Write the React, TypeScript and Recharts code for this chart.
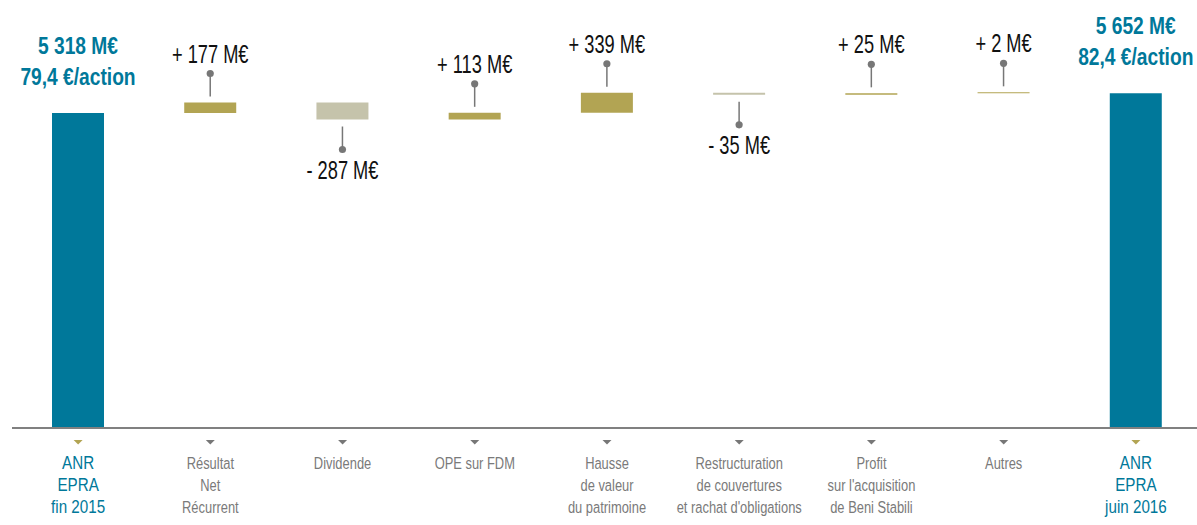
import { Bar, BarChart, Cell, LabelList, XAxis, YAxis } from "recharts";

const categories = [
    ["ANR", "EPRA", "fin 2015"],
    ["Résultat", "Net", "Récurrent"],
    ["Dividende"],
    ["OPE sur FDM"],
    ["Hausse", "de valeur", "du patrimoine"],
    ["Restructuration", "de couvertures", "et rachat d'obligations"],
    ["Profit", "sur l'acquisition", "de Beni Stabili"],
    ["Autres"],
    ["ANR", "EPRA", "juin 2016"],
];
const startValue = 5318;
const endValue = 5652;
const changes = [177, -287, 113, 339, -35, 25, 2];
const perShare = ["79,4", "82,4"];

const TEAL = "#00789a";
const GOLD = "#b2a453";
const BEIGE = "#c5c3ab";
const PIN = "#777777";
const FONT = "'Liberation Sans', Arial, sans-serif";

const fmt = (v: number) => String(v).replace(/\B(?=(\d{3})+(?!\d))/g, " ");

// waterfall rows: transparent base + visible part
const rows = (() => {
    const out = [{ name: categories[0].join(" "), base: 0, value: startValue, kind: "total" }];
    let run = startValue;
    changes.forEach((c, i) => {
        const next = run + c;
        out.push({ name: categories[i + 1].join(" "), base: Math.min(run, next), value: Math.abs(c), kind: c >= 0 ? "up" : "down" });
        run = next;
    });
    out.push({ name: categories[8].join(" "), base: 0, value: endValue, kind: "total" });
    return out;
})();

// condensed look: no narrow font installed, so squeeze horizontally
function CText({ x, y, size, fill, bold, sx, children }: any) {
    return (
        <text transform={`translate(${x} ${y}) scale(${sx} 1)`} x={0} y={0} textAnchor="middle"
            fontFamily={FONT} fontSize={size} fontWeight={bold ? "bold" : "normal"} fill={fill}>{children}</text>
    );
}

function BarLabel(props: any) {
    const { x, y, width, height, index } = props;
    const cx = x + width / 2;
    const row = rows[index];
    if (row.kind === "total") {
        const total = index === 0 ? startValue : endValue;
        const ps = index === 0 ? perShare[0] : perShare[1];
        return (
            <g>
                <CText x={cx} y={y - 59} size={24} sx={0.8} bold fill={TEAL}>{fmt(total) + " M€"}</CText>
                <CText x={cx} y={y - 28} size={24} sx={0.8} bold fill={TEAL}>{ps + " €/action"}</CText>
            </g>
        );
    }
    const c = changes[index - 1];
    if (c >= 0) {
        return (
            <g>
                <line x1={cx} x2={cx} y1={y - 6} y2={y - 28} stroke={PIN} strokeWidth={1.5} />
                <circle cx={cx} cy={y - 29} r={3.6} fill={PIN} />
                <CText x={cx} y={y - 40} size={25} sx={0.73} fill="#111">{"+ " + fmt(c) + " M€"}</CText>
            </g>
        );
    }
    const bottom = y + height;
    return (
        <g>
            <line x1={cx} x2={cx} y1={bottom + 7} y2={bottom + 30} stroke={PIN} strokeWidth={1.5} />
            <circle cx={cx} cy={bottom + 30} r={3.6} fill={PIN} />
            <CText x={cx} y={bottom + 59} size={25} sx={0.73} fill="#111">{"- " + fmt(-c) + " M€"}</CText>
        </g>
    );
}

function CategoryTick(props: any) {
    const { x, y, index } = props;
    const lines = categories[index];
    const isTotal = index === 0 || index === categories.length - 1;
    const ty = y + 4;
    return (
        <g>
            <path d={`M${x - 4.5},${ty} L${x + 4.5},${ty} L${x},${ty + 4.5} Z`} fill={isTotal ? GOLD : PIN} />
            {lines.map((l, i) => (
                <CText key={i} x={x} y={ty + 29 + i * 22} size={isTotal ? 19 : 17} sx={isTotal ? 0.8 : 0.76}
                    fill={isTotal ? TEAL : "#7a7a7a"}>{l}</CText>
            ))}
        </g>
    );
}

export default function App() {
    return (
        <div style={{ position: "absolute", left: 0, top: 0, width: 1197, height: 525, overflow: "hidden", background: "#fff" }}>
            <BarChart width={1210} height={525} data={rows} barSize={52} margin={{ top: 72.6, right: 8, left: 12, bottom: 0 }}>
                <XAxis dataKey="name" height={97} axisLine={{ stroke: "#808080", strokeWidth: 2 }} tickLine={false}
                    interval={0} tick={<CategoryTick />} />
                <YAxis hide domain={[0, 6000]} />
                <Bar dataKey="base" stackId="w" fill="transparent" barSize={52} isAnimationActive={false} />
                <Bar dataKey="value" stackId="w" barSize={52} minPointSize={1} isAnimationActive={false}>
                    {rows.map((r, i) => (
                        <Cell key={i} fill={r.kind === "total" ? TEAL : r.kind === "up" ? GOLD : BEIGE} />
                    ))}
                    <LabelList dataKey="value" content={<BarLabel />} />
                </Bar>
            </BarChart>
        </div>
    );
}
